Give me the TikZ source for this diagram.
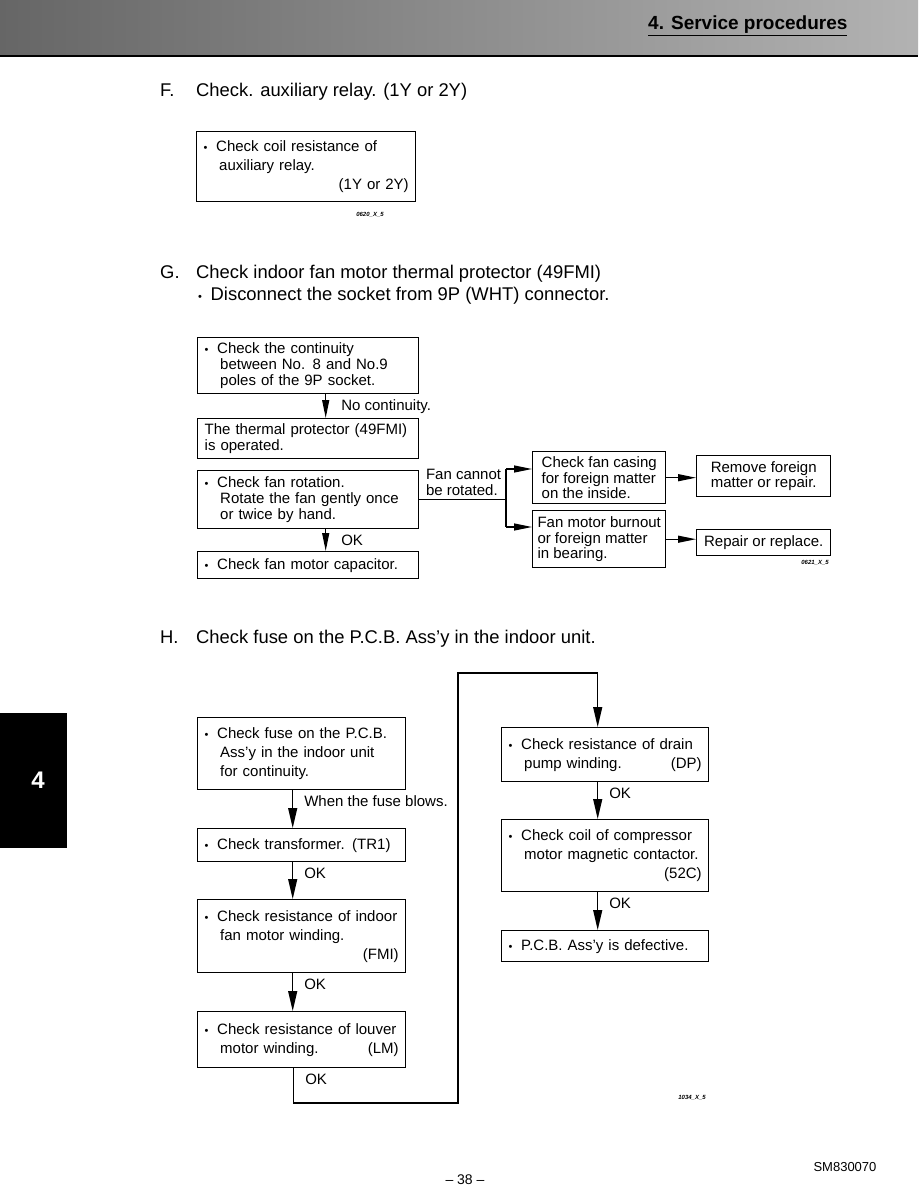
\documentclass[tikz,border=0pt]{standalone}
\usepackage{fontspec}
\setmainfont{Liberation Sans}
\usetikzlibrary{arrows.meta,positioning}
\newcommand{\bul}{\makebox[12.5pt][l]{\fontsize{11}{11}\selectfont\textbullet}}
\newcommand{\ind}{\hspace*{15.5pt}}
\newcommand{\rgt}[1]{\hspace*{\fill}#1}

\begin{document}
\begin{tikzpicture}[x=1pt,y=-1pt,font=\fontsize{15}{19}\selectfont,
  box/.style={draw,line width=1.4pt,anchor=north west,inner xsep=7pt,inner ysep=0pt,align=left},
  gbox/.style={box,text width=207pt,font=\fontsize{15}{16}\selectfont},
  hbox/.style={box,text width=194pt},
  cbox/.style={draw,line width=1.4pt,anchor=north west,inner xsep=0pt,inner ysep=0pt,align=left,minimum width=133pt,font=\fontsize{15}{15.5}\selectfont},
  arr/.style={-{Triangle[length=20pt,width=9pt]},line width=1.2pt},
  sarr/.style={-{Triangle[length=18pt,width=7pt]},line width=1.2pt},
  lbl/.style={at start,anchor=north west,inner sep=0pt,xshift=11pt,yshift=-5pt},
  ttl/.style={anchor=base west,inner sep=0pt,font=\fontsize{18.4}{22}\selectfont},
  code/.style={inner sep=0pt,font=\fontsize{6}{6}\selectfont\bfseries\itshape}]
\useasboundingbox (0,0) rectangle (918,1188);
\shade[left color=black!60,right color=black!30] (0,0) rectangle (918,55);
\draw[line width=2pt] (0,56) -- (918,56);
\node[anchor=base west,inner sep=0pt,font=\fontsize{19}{22}\selectfont\bfseries] (hdr) at (648,30) {\underline{4. Service procedures}};
\fill (0,713) rectangle (67,848);
\node[text=white,font=\fontsize{24}{24}\selectfont\bfseries] (tab) at (38,780) {4};

\node[ttl] (fhd) at (160,97) {F.};
\node[ttl] (ftx) at (196,97) {Check. auxiliary relay. (1Y or 2Y)};
\node[box,text width=205pt,minimum height=70pt,yshift=-2pt] (relay) at (196,129) {\bul Check coil resistance of\\\ind auxiliary relay.\\\rgt{(1Y or 2Y)}};
\node[code] (fcode) at (370,215) {0620\_X\_5};

\node[ttl] (ghd) at (160,278) {G.};
\node[ttl] (gtx) at (196,278) {Check indoor fan motor thermal protector (49FMI)};
\node[ttl] (gsub) at (198,300) {\bul Disconnect the socket from 9P (WHT) connector.};
\node[gbox,minimum height=56pt] (cont) at (197,337) {\bul Check the continuity\\\ind between No. 8 and No.9\\\ind poles of the 9P socket.};
\node[gbox,minimum height=40pt] (prot) at (197,418) {The thermal protector (49FMI)\\is operated.};
\node[gbox,minimum height=58pt] (rot) at (197,470) {\bul Check fan rotation.\\\ind Rotate the fan gently once\\\ind or twice by hand.};
\node[gbox,minimum height=27pt] (cap) at (197,551) {\bul Check fan motor capacitor.};
\coordinate (sp1) at (506,469);
\coordinate (sp2) at (506,527);
\node[cbox,minimum height=52pt] (casing) at (532,451) {Check fan casing\\for foreign matter\\on the inside.};
\node[cbox,minimum height=57pt] (burn) at (532,510) {Fan motor burnout\\or foreign matter\\in bearing.};
\node[cbox,minimum width=134pt,minimum height=41pt] (remove) at (696,455) {Remove foreign\\matter or repair.};
\node[cbox,minimum width=134pt,minimum height=26pt] (repair) at (696,529) {Repair or replace.};
\node[code] (gcode) at (815,563) {0621\_X\_5};
\draw[sarr] ([xshift=17.5pt]cont.south) -- node[lbl,xshift=4pt]{No continuity.} ([xshift=17.5pt]prot.north);
\draw[sarr] ([xshift=17.5pt]rot.south) -- node[lbl,xshift=4pt]{OK} ([xshift=17.5pt]cap.north);
\draw[line width=1.2pt] (rot.east) -- node[at start,anchor=south west,inner sep=0pt,xshift=6pt,yshift=3pt,align=left,font=\fontsize{15}{16}\selectfont]{Fan cannot\\be rotated.} (rot.east -| sp1);
\draw[line width=1.2pt] (sp1) -- (sp2);
\draw[sarr] (sp1) -- (sp1 -| casing.west);
\draw[sarr] (sp2) -- (sp2 -| burn.west);
\draw[sarr] (casing.east) -- (casing.east -| remove.west);
\draw[sarr] (burn.east) -- (burn.east -| repair.west);

\node[ttl] (hhd) at (160,643) {H.};
\node[ttl] (htx) at (196,643) {Check fuse on the P.C.B. Ass'y in the indoor unit.};
\node[hbox,minimum height=72pt] (fuse) at (197,717) {\bul Check fuse on the P.C.B.\\\ind Ass'y in the indoor unit\\\ind for continuity.};
\node[hbox,minimum height=33pt] (trans) at (197,828) {\bul Check transformer. (TR1)};
\node[hbox,minimum height=73pt] (fmi) at (197,899) {\bul Check resistance of indoor\\\ind fan motor winding.\\\rgt{(FMI)}};
\node[hbox,minimum height=56pt] (louver) at (197,1011) {\bul Check resistance of louver\\\ind motor winding.\rgt{(LM)}};
\node[box,text width=193pt,minimum height=54pt] (drain) at (501,727) {\bul Check resistance of drain\\\ind pump winding.\rgt{(DP)}};
\node[box,text width=193pt,minimum height=72pt] (coil) at (501,819) {\bul Check coil of compressor\\\ind motor magnetic contactor.\\\rgt{(52C)}};
\node[box,text width=193pt,minimum height=31pt] (pcb) at (501,930) {\bul P.C.B. Ass'y is defective.};
\node[code] (hcode) at (692,1098) {1034\_X\_5};
\coordinate (loopbot) at (458,1103);
\coordinate (looptop) at (458,673);
\draw[arr] ([xshift=-9pt]fuse.south) -- node[lbl]{When the fuse blows.} ([xshift=-9pt]trans.north);
\draw[arr] ([xshift=-9pt]trans.south) -- node[lbl]{OK} ([xshift=-9pt]fmi.north);
\draw[arr] ([xshift=-9pt]fmi.south) -- node[lbl]{OK} ([xshift=-9pt]louver.north);
\draw[arr] ([xshift=-8pt]louver.south) |- node[lbl]{OK} (loopbot) -- (looptop) -| ([xshift=-7.5pt]drain.north);
\draw[arr] ([xshift=-7.5pt]drain.south) -- node[lbl]{OK} ([xshift=-7.5pt]coil.north);
\draw[arr] ([xshift=-7.5pt]coil.south) -- node[lbl]{OK} ([xshift=-7.5pt]pcb.north);

\node[font=\fontsize{14}{14}\selectfont] (page) at (465,1180) {-- 38 --};
\node[anchor=west,font=\fontsize{13}{13}\selectfont] (docno) at (810,1167) {SM830070};
\end{tikzpicture}
\end{document}
